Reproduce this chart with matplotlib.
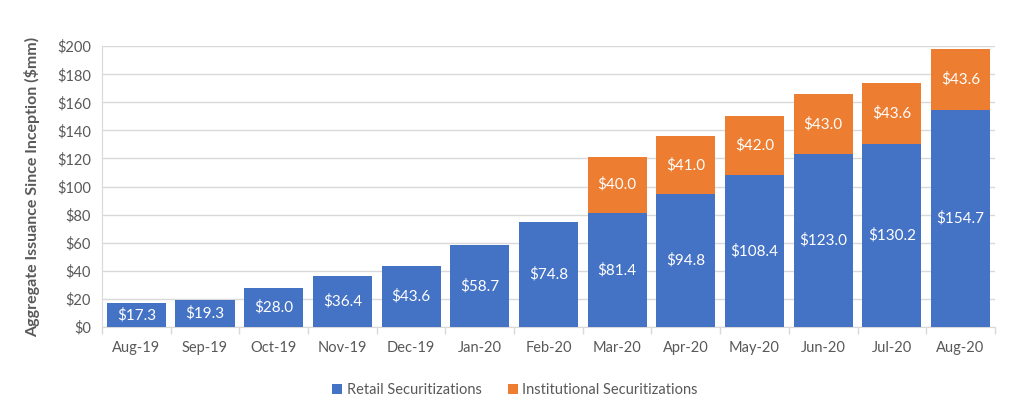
import matplotlib
matplotlib.use("Agg")
import matplotlib.pyplot as plt
import numpy as np

months = ["Aug-19", "Sep-19", "Oct-19", "Nov-19", "Dec-19", "Jan-20", "Feb-20",
          "Mar-20", "Apr-20", "May-20", "Jun-20", "Jul-20", "Aug-20"]
retail = [17.3, 19.3, 28.0, 36.4, 43.6, 58.7, 74.8, 81.4, 94.8, 108.4, 123.0, 130.2, 154.7]
institutional = [0, 0, 0, 0, 0, 0, 0, 40.0, 41.0, 42.0, 43.0, 43.6, 43.6]
yticks = list(range(0, 201, 20))

plt.rcParams['font.family'] = ['Lato', 'DejaVu Sans']
blue = "#4472C4"
orange = "#ED7D31"
gray = "#595959"
grid = "#D9D9D9"

fig = plt.figure(figsize=(10.24, 4.16), dpi=100)
ax = fig.add_axes([0.0996, 0.214, 0.872, 0.675])

x = np.arange(len(months))
w = 0.86
b1 = ax.bar(x, retail, w, color=blue, label="Retail Securitizations", zorder=3)
b2 = ax.bar(x, institutional, w, bottom=retail, color=orange,
            label="Institutional Securitizations", zorder=3)

for i in range(len(months)):
    ax.text(x[i], retail[i] / 2, f"${retail[i]:.1f}", ha="center", va="center",
            color="white", fontsize=11, zorder=4)
    if institutional[i] > 0:
        ax.text(x[i], retail[i] + institutional[i] / 2, f"${institutional[i]:.1f}",
                ha="center", va="center", color="white", fontsize=11, zorder=4)

ax.set_xlim(-0.5, len(months) - 0.5)
ax.set_ylim(0, 200)
ax.set_yticks(yticks)
ax.set_yticklabels([f"${v}" for v in yticks], color=gray, fontsize=10.5)
ax.set_xticks(x)
ax.set_xticklabels(months, color=gray, fontsize=10.5)
ax.tick_params(axis="x", length=0, pad=10)
ax.set_xticks(np.arange(-0.5, len(months), 1), minor=True)
ax.tick_params(axis="x", which="minor", length=5, color=grid, width=1)
ax.tick_params(axis="y", length=0, pad=8)
ax.yaxis.grid(True, color=grid, linewidth=1, zorder=0)
ax.set_axisbelow(True)
for s in ["top", "right"]:
    ax.spines[s].set_visible(False)
ax.spines["left"].set_color(grid)
ax.spines["bottom"].set_color(grid)

ax.set_ylabel("Aggregate Issuance Since Inception ($mm)", color=gray,
              fontsize=11.5, fontweight="bold", labelpad=12)

leg = fig.legend(handles=[b1, b2], loc="center", bbox_to_anchor=(0.503, 0.063),
                 ncol=2, frameon=False, fontsize=10.5, handlelength=0.7,
                 handleheight=0.7, handletextpad=0.3, columnspacing=1.8)
for t in leg.get_texts():
    t.set_color(gray)

fig.savefig("out.png", dpi=100)
